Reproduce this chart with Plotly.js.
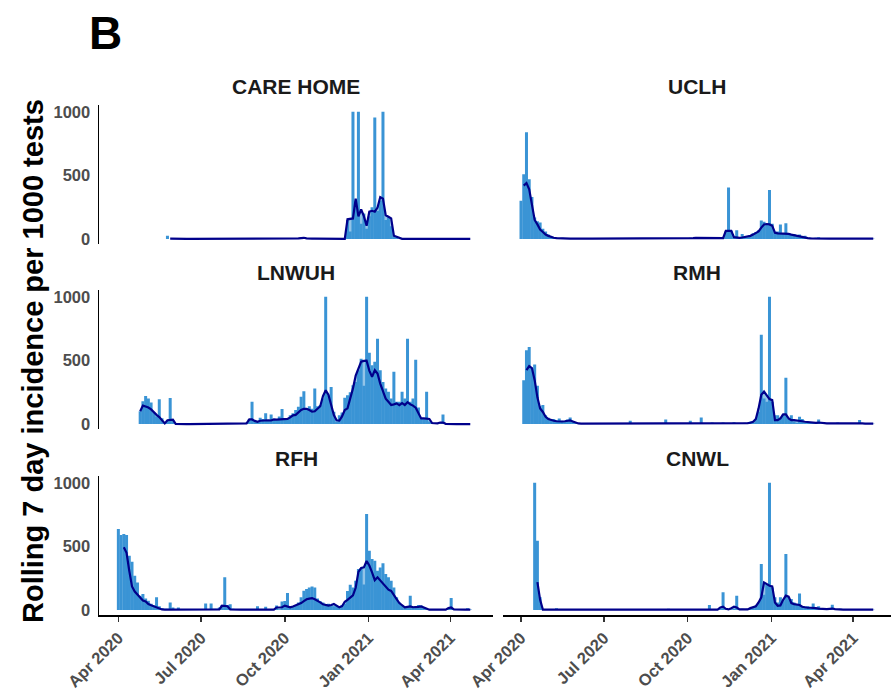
<!DOCTYPE html>
<html>
<head>
<meta charset="utf-8">
<script src="https://cdn.plot.ly/plotly-3.0.1.min.js"></script>
<style>html,body{margin:0;padding:0;background:#fff;}#chart{width:891px;height:690px;}</style>
</head>
<body>
<div id="chart"></div>
<script>
// ---- data: values every 3 days starting 2020-04-01 (130 points) ----
const startDate = '2020-04-01';
const stepDays = 3;

const panelNames = ['CARE HOME', 'UCLH', 'LNWUH', 'RMH', 'RFH', 'CNWL'];
const tickDates = ['2020-04-01', '2020-07-01', '2020-10-01', '2021-01-01', '2021-04-01'];
const tickLabels = ['Apr 2020', 'Jul 2020', 'Oct 2020', 'Jan 2021', 'Apr 2021'];
const yTicks = [0, 500, 1000];

const careBars = [
  0,0,0,0,0,0,0,0,0,0, 0,0,0,0,0,0,0,0,25,0, 0,0,0,0,0,0,0,0,0,0, 0,0,0,0,0,0,0,8,0,0,
  0,0,0,0,0,0,0,0,0,0, 0,0,0,0,0,0,0,0,0,0, 0,0,8,8,0,0,0,0,15,0, 0,0,0,0,8,0,0,0,0,0,
  0,0,0,0,150,60,1000,300,1000,120, 200,80,180,250,955,220,300,1000,150,170,
  100,20,10,0,0,0,0,0,0,0, 0,0,0,0,0,0,0,0,0,0, 0,0,0,0,0,0,0,0,0,0];
const careLine = [
  null,null,null,null,null,null,null,null,null,null, null,null,null,null,null,null,null,null,null,3,
  2,2,2,2,2,2,2,2,2,2, 2,2,2,2,2,2,2,3,2,2, 2,2,2,2,2,2,2,2,2,2, 2,2,2,2,2,2,2,2,2,2,
  2,2,4,4,3,4,5,8,10,6, 3,3,3,3,4,3,2,2,2,2, 2,2,2,2,155,158,162,318,178,232,
  180,105,215,222,215,247,330,318,187,175, 162,26,18,5,2,2,2,2,2,2,
  2,2,2,2,2,2,2,2,2,2, 2,2,2,2,2,2,2,2,2,2];

const uclhBars = [
  300,510,840,470,330,170,140,130,80,60, 35,20,12,10,8,10,5,4,3,3, 3,2,2,2,3,2,2,2,2,2,
  2,2,2,2,2,2,2,2,2,2, 2,2,2,2,2,2,2,2,2,2, 2,2,3,3,3,5,8,6,5,6, 8,6,10,8,12,10,15,8,12,8,
  10,8,6,8,10,60,405,65,15,70, 10,40,12,15,30,45,55,70,145,135, 110,385,120,50,60,115,40,125,45,40,
  40,30,35,20,25,10,10,5,10,15, 8,5,5,4,4,3,3,3,3,3, 3,3,3,3,3,3,3,3,3,3];
const uclhLine = [
  null,420,440,390,260,150,115,75,55,35, 25,15,10,8,6,5,5,4,4,4, 3,3,3,3,3,3,3,3,3,3,
  3,3,3,3,3,3,3,3,3,3, 3,3,3,3,3,3,3,3,3,3, 3,3,4,4,4,5,6,6,6,6, 7,7,8,8,9,9,10,10,10,9,
  8,8,8,8,8,65,65,65,15,12, 10,12,15,20,25,35,45,60,90,115, 118,115,105,50,45,45,45,45,40,35,
  30,25,22,15,10,8,6,5,5,5, 4,4,4,4,4,4,4,4,4,4, 4,4,4,4,4,4,4,4,4,4];

const lnwuhBars = [
  0,0,0,0,0,0,0,0,100,180, 220,200,170,90,60,195,45,10,30,205, 30,0,0,0,0,0,0,0,0,0,
  0,0,0,0,0,0,0,0,0,0, 0,0,0,0,0,0,0,10,40,175, 30,15,50,40,84,30,76,40,30,60,
  118,35,40,70,84,110,136,214,258,123, 140,120,280,140,150,200,1000,227,292,97,
  18,70,90,206,227,250,305,331,423,514, 300,1000,560,462,490,671,423,330,279,253,
  200,410,175,175,253,200,671,175,200,506, 130,40,40,253,20,10,8,5,5,76, 5,0,0,0,0,0,0,0,0,0];
const lnwuhLine = [
  null,null,null,null,null,null,null,null,100,145, 138,130,115,90,72,55,30,5,30,35,
  35,2,0,0,0,0,0,0,0,0, 0,0,0,0,0,0,0,0,0,0, 0,0,0,0,0,0,0,5,36,36,
  25,18,26,28,31,30,28,36,35,36, 36,36,40,52,68,72,90,110,120,120,
  110,97,100,120,140,220,265,230,160,70, 30,28,60,110,123,200,280,380,440,490,
  496,498,420,371,423,397,318,266,200,175, 150,155,162,149,165,150,172,155,145,128,
  84,44,44,44,40,8,5,5,12,12, 2,0,0,0,0,0,0,0,0,0];

const rmhBars = [
  0,345,580,605,440,467,300,140,149,70, 50,35,40,30,44,25,20,35,52,20, 10,5,3,3,3,3,3,3,3,3,
  3,3,3,3,3,3,3,3,3,3, 26,3,3,3,3,3,3,3,3,3, 3,3,5,36,5,3,3,3,3,3, 3,3,26,5,5,5,52,5,5,5,
  12,5,5,5,12,5,5,5,15,5, 5,5,10,5,20,10,40,97,702,200, 175,1000,175,70,70,50,76,363,40,70,
  20,10,57,40,10,15,10,8,8,36, 5,5,5,5,5,5,12,5,5,5, 5,5,5,5,31,5,3,3,3,3];
const rmhLine = [
  null,null,423,455,440,345,210,123,95,57, 39,30,26,22,18,20,22,25,28,20, 12,5,3,3,3,3,3,3,3,3,
  3,3,3,3,3,3,3,3,3,3, 3,3,3,3,3,3,3,3,3,3, 3,3,6,6,6,3,3,3,3,3, 3,3,4,5,5,6,8,6,5,5,
  5,5,5,5,5,5,5,5,5,5, 5,5,5,8,10,18,40,123,230,255, 225,196,188,31,31,45,76,76,45,31,
  31,30,25,22,18,15,12,10,10,12, 8,6,5,5,5,5,5,5,5,5, 5,5,5,10,8,5,4,4,4,4];

const rfhBars = [
  637,590,597,590,427,380,270,217,113,126, 90,73,50,35,100,30,15,10,10,60, 20,8,20,5,5,5,5,5,5,5,
  5,5,52,5,52,10,10,20,40,257, 40,45,10,5,5,5,5,5,5,5, 5,30,5,5,25,5,5,5,35,5,
  68,72,134,30,30,40,60,100,152,165, 178,186,178,90,70,60,40,50,40,30,
  35,30,40,50,150,199,178,231,322,330, 200,755,466,401,388,309,335,367,283,257,
  231,178,100,60,40,20,30,113,25,30, 40,35,20,10,5,5,5,5,5,5, 5,10,94,5,5,5,5,5,15,5];
const rfhLine = [
  null,null,493,450,309,185,145,120,100,75, 68,47,38,30,22,12,5,3,3,3, 3,3,3,3,3,3,3,3,3,3,
  3,3,3,3,3,3,3,5,34,34, 30,5,3,3,3,3,3,3,3,3, 3,3,3,3,3,3,3,3,20,20,
  22,35,30,21,28,35,45,55,70,85, 90,94,85,75,60,45,40,35,40,47,
  35,21,30,65,80,95,115,175,300,330, 335,385,350,296,235,257,231,210,185,160,
  150,113,86,55,35,21,25,29,22,22, 25,29,20,8,3,3,3,3,3,3, 3,15,20,5,3,3,3,3,3,3];

const cnwlBars = [
  0,0,0,0,0,1000,545,100,5,3, 3,3,3,15,3,3,3,3,3,3, 3,3,3,3,3,3,3,3,3,3,
  3,3,3,3,3,3,3,3,3,3, 3,3,3,3,3,3,3,3,3,3, 3,3,3,3,10,3,3,3,5,3, 3,3,3,3,3,3,3,3,3,39,
  3,3,3,10,139,5,3,5,10,113, 5,10,5,10,10,20,34,60,362,120, 200,1000,178,100,60,100,70,440,100,86,
  60,40,131,30,20,30,15,52,15,30, 10,8,8,8,42,5,5,10,5,5, 3,3,3,3,3,3,3,3,3,3];
const cnwlLine = [
  null,null,null,null,null,null,220,80,3,3, 3,3,3,3,3,3,3,3,3,3, 3,3,3,3,3,3,3,3,3,3,
  3,3,3,3,3,3,3,3,3,3, 3,3,3,3,3,3,3,3,3,3, 3,3,3,3,3,3,3,3,3,3, 3,3,3,3,3,3,3,3,3,3,
  3,3,3,20,26,10,5,15,26,20, 5,5,5,5,15,20,30,60,100,217, 205,191,186,60,34,36,80,113,105,55,
  47,45,40,26,20,18,18,18,15,12, 10,8,8,10,12,8,5,5,3,3, 3,3,3,3,3,3,3,3,3,3];

const panelBars = [careBars, uclhBars, lnwuhBars, rmhBars, rfhBars, cnwlBars];
const panelLines = [careLine, uclhLine, lnwuhLine, rmhLine, rfhLine, cnwlLine];

// ---- styling / layout ----
const W = 891, H = 690;
const barColor = '#3A94D5';
const fillColor = 'rgba(58,148,213,0.55)';
const lineColor = '#00008B';
const dayMs = 86400000;

function buildDates(n) {
  const t0 = new Date(startDate + 'T00:00:00Z').getTime();
  const out = [];
  for (let i = 0; i < n; i++) out.push(new Date(t0 + i * stepDays * dayMs).toISOString().slice(0, 10));
  return out;
}

// pixel geometry
const colX = [[99, 493], [503, 891]];
const colRange = [['2020-03-10 17:00', '2021-05-18'], ['2020-03-12 05:00', '2021-05-12 12:00']];
const rowY = [[105.4, 244.4], [290.4, 429.4], [476.4, 615.4]];
const titleY = [86, 272, 458];

const traces = [];
const layout = {
  width: W, height: H,
  margin: {l: 0, r: 0, t: 0, b: 0},
  paper_bgcolor: '#fff', plot_bgcolor: 'rgba(0,0,0,0)',
  showlegend: false,
  barmode: 'overlay',
  font: {family: 'Liberation Sans, Arial, sans-serif'},
  annotations: []
};

panelNames.forEach((name, p) => {
  const col = p % 2, row = Math.floor(p / 2);
  const k = p + 1;
  const xa = 'x' + (k === 1 ? '' : k), ya = 'y' + (k === 1 ? '' : k);
  const dates = buildDates(panelBars[p].length);
  traces.push({
    type: 'bar', x: dates, y: panelBars[p], xaxis: xa, yaxis: ya,
    width: 3.3 * dayMs, marker: {color: barColor, line: {width: 0}}, hoverinfo: 'skip'
  });
  traces.push({
    type: 'scatter', mode: 'lines', x: dates, y: panelLines[p], xaxis: xa, yaxis: ya,
    line: {color: lineColor, width: 2.2}, fill: 'tozeroy', fillcolor: fillColor,
    connectgaps: false, hoverinfo: 'skip'
  });
  const isBottom = row === 2, isLeft = col === 0;
  layout['xaxis' + (k === 1 ? '' : k)] = {
    type: 'date', anchor: ya,
    domain: [colX[col][0] / W, colX[col][1] / W],
    range: colRange[col],
    showgrid: false, zeroline: false,
    showline: isBottom, linecolor: '#000', linewidth: 1.5,
    ticks: isBottom ? 'outside' : '', ticklen: 5, tickwidth: 1.5, tickcolor: '#333',
    tickmode: 'array', tickvals: tickDates, ticktext: tickLabels,
    showticklabels: isBottom, tickangle: -45,
    tickfont: {size: 16.5, color: '#4d4d4d', weight: 700}
  };
  layout['yaxis' + (k === 1 ? '' : k)] = {
    anchor: xa,
    domain: [1 - rowY[row][1] / H, 1 - rowY[row][0] / H],
    range: [-42, 1050],
    showgrid: false, zeroline: false,
    showline: isLeft, linecolor: '#000', linewidth: 1.5,
    ticks: '', tickmode: 'array', tickvals: yTicks,
    showticklabels: isLeft, ticklabelstandoff: 4,
    tickfont: {size: 16.5, color: '#4d4d4d', weight: 700}
  };
  layout.annotations.push({
    text: name, xref: 'paper', yref: 'paper',
    x: (colX[col][0] + colX[col][1]) / 2 / W, y: 1 - titleY[row] / H,
    xanchor: 'center', yanchor: 'middle', showarrow: false,
    font: {size: 21, color: '#1a1a1a', weight: 700}
  });
});

layout.annotations.push({
  text: 'B', xref: 'paper', yref: 'paper', x: 105 / W, y: 1 - 33 / H,
  xanchor: 'center', yanchor: 'middle', showarrow: false,
  font: {size: 46, color: '#000', weight: 700}
});
layout.annotations.push({
  text: 'Rolling 7 day incidence per 1000 tests', xref: 'paper', yref: 'paper',
  x: 33 / W, y: 1 - 361 / H, xanchor: 'center', yanchor: 'middle', textangle: -90,
  showarrow: false, font: {size: 29, color: '#000', weight: 700}
});

Plotly.newPlot('chart', traces, layout, {staticPlot: true, displayModeBar: false});
</script>
</body>
</html>
